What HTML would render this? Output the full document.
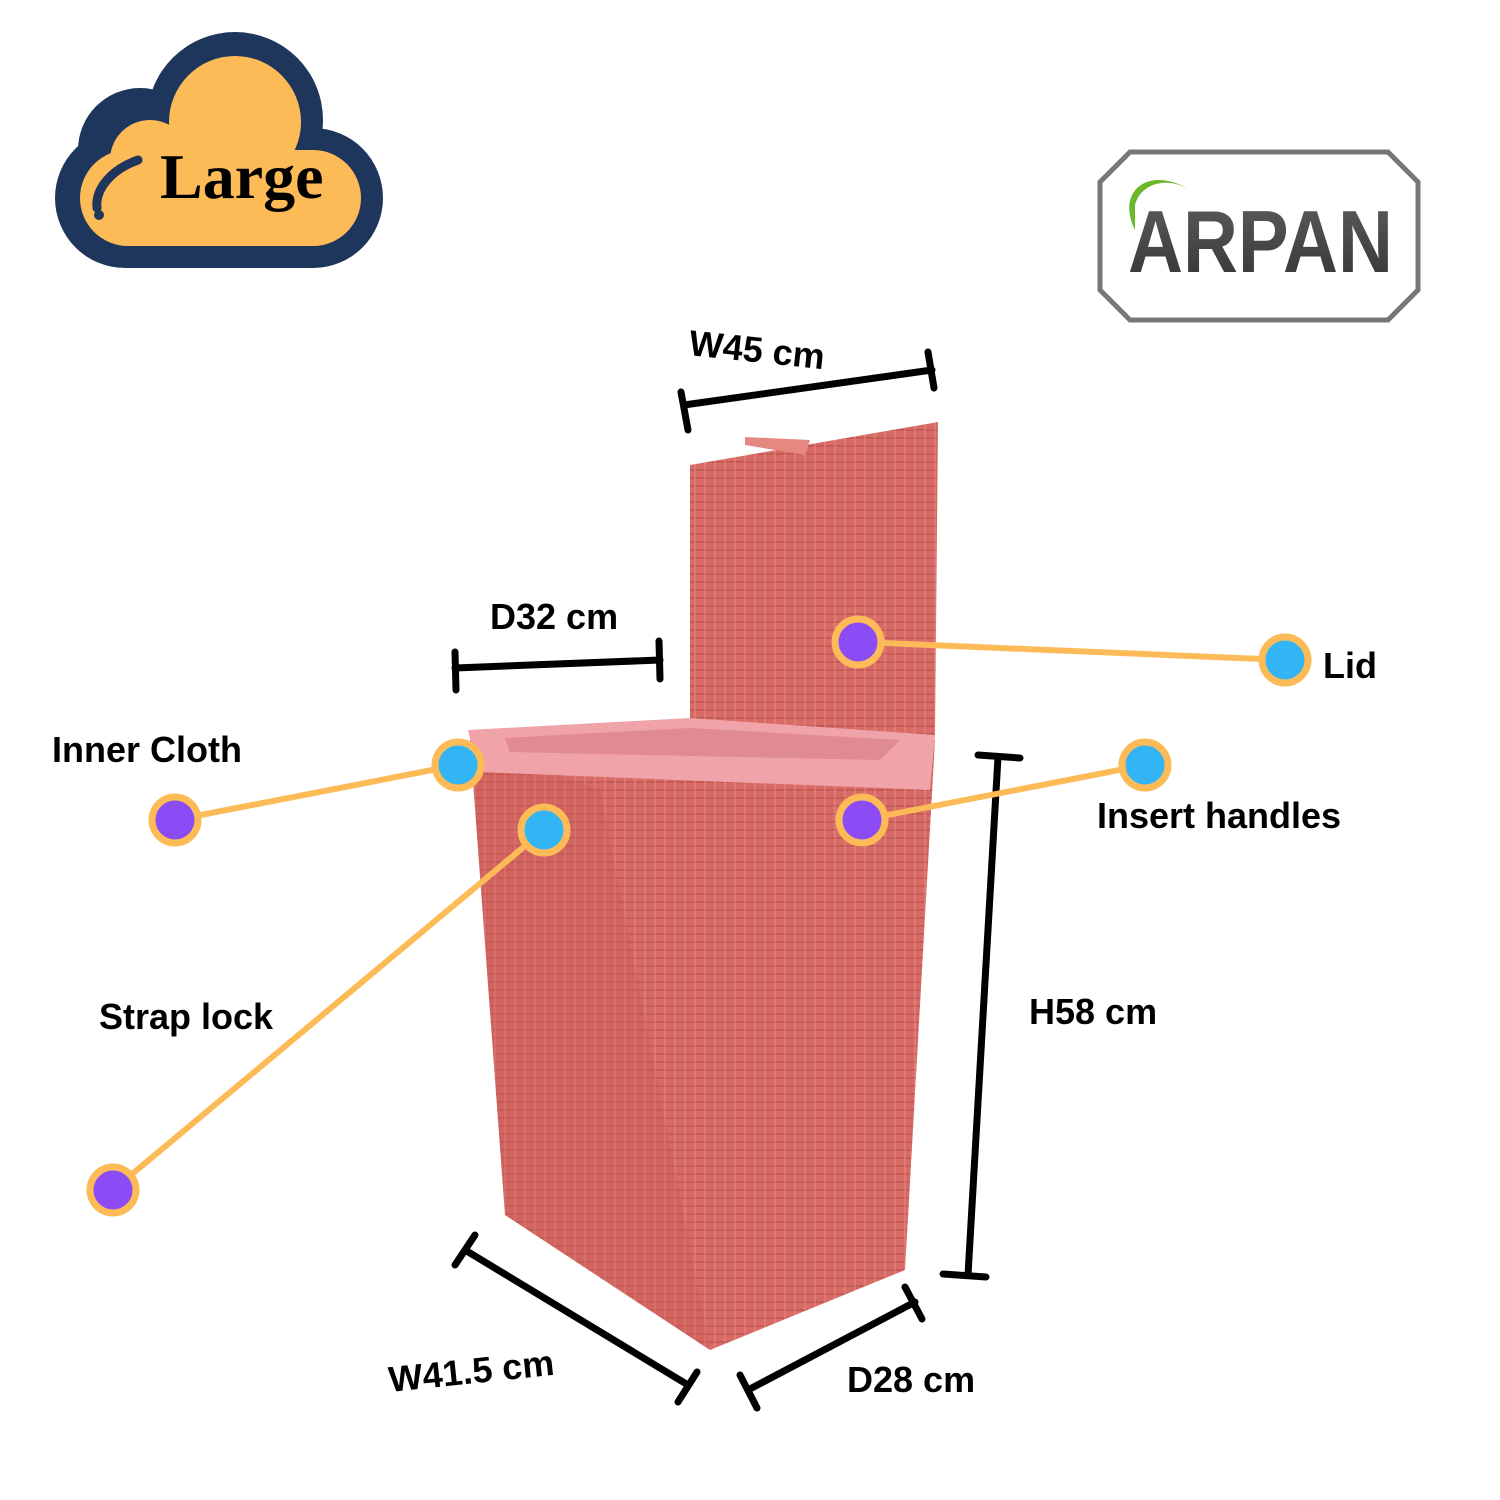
<!DOCTYPE html>
<html><head><meta charset="utf-8"><style>
body{margin:0;background:#fff;}
svg{display:block}
</style></head><body>
<svg width="1500" height="1500" viewBox="0 0 1500 1500" xmlns="http://www.w3.org/2000/svg">
<defs>
<pattern id="weave" width="10" height="8" patternUnits="userSpaceOnUse">
<rect width="10" height="8" fill="#d96b66"/>
<rect y="5" width="10" height="2" fill="#b8504d" opacity="0.6"/>
<rect x="4" width="2" height="8" fill="#e88a82" opacity="0.5"/>
</pattern>
<linearGradient id="ag" x1="0" y1="0" x2="0" y2="1"><stop offset="0" stop-color="#5e5e5e"/><stop offset="1" stop-color="#333"/></linearGradient>
</defs>
<!-- cloud -->
<g fill="#1f365c">
<circle cx="235" cy="120" r="88"/><circle cx="140" cy="150" r="62"/><circle cx="313" cy="198" r="70"/><circle cx="125" cy="198" r="70"/>
<rect x="125" y="150" width="190" height="118"/>
</g>
<g fill="#fdbb58">
<circle cx="235" cy="122" r="66"/><circle cx="150" cy="160" r="40"/><circle cx="313" cy="198" r="48"/><circle cx="128" cy="198" r="48"/>
<rect x="128" y="150" width="185" height="96"/>
</g>
<path d="M138,160 C110,170 95,190 97,208" stroke="#1f365c" stroke-width="9" fill="none" stroke-linecap="round"/>
<circle cx="99" cy="215" r="5" fill="#1f365c"/>
<text x="160" y="198" font-family="Liberation Serif,serif" font-weight="bold" font-size="64" fill="#000">Large</text>
<!-- ARPAN -->
<polygon points="1130,152 1388,152 1418,182 1418,290 1388,320 1130,320 1100,290 1100,182" fill="#fff" stroke="#777" stroke-width="5"/>
<path d="M1135,230 C1115,190 1150,165 1190,190 C1165,175 1140,185 1135,205" fill="#6cb82c"/>
<text x="1128" y="272" font-family="Liberation Sans,sans-serif" font-weight="bold" font-size="88" fill="url(#ag)" textLength="265" lengthAdjust="spacingAndGlyphs">ARPAN</text>
<!-- basket -->
<polygon points="690,465 938,422 935,735 690,735" fill="url(#weave)"/>
<polygon points="745,437 810,440 805,455 745,445" fill="#e48880"/>
<polygon points="470,740 935,740 905,1270 710,1350 505,1215" fill="url(#weave)"/>
<polygon points="470,740 600,790 710,1350 505,1215" fill="#c55a57" opacity="0.35"/>
<polygon points="468,730 690,718 935,735 930,790 478,772" fill="#f0a3a8"/>
<polygon points="505,738 690,728 900,740 880,760 510,752" fill="#e08a92"/>
<!-- dimension lines -->
<g stroke="#000" stroke-width="7" stroke-linecap="round" fill="none">
<line x1="684" y1="405" x2="932" y2="370"/><line x1="681" y1="392" x2="688" y2="430"/><line x1="928" y1="352" x2="934" y2="388"/>
<line x1="455" y1="668" x2="660" y2="660"/><line x1="455" y1="652" x2="456" y2="690"/><line x1="659" y1="641" x2="660" y2="679"/>
<line x1="998" y1="757" x2="968" y2="1275"/><line x1="978" y1="755" x2="1020" y2="758"/><line x1="943" y1="1274" x2="986" y2="1277"/>
<line x1="465" y1="1250" x2="688" y2="1385"/><line x1="455" y1="1265" x2="475" y2="1235"/><line x1="678" y1="1402" x2="697" y2="1372"/>
<line x1="748" y1="1390" x2="915" y2="1302"/><line x1="740" y1="1375" x2="757" y2="1408"/><line x1="905" y1="1287" x2="922" y2="1319"/>
</g>
<!-- callouts -->
<g stroke="#fdbb58" stroke-width="6">
<line x1="858" y1="642" x2="1285" y2="660"/>
<line x1="175" y1="820" x2="458" y2="765"/>
<line x1="862" y1="820" x2="1145" y2="765"/>
<line x1="113" y1="1190" x2="544" y2="830"/>
</g>
<g stroke="#fdbb58" stroke-width="7">
<circle cx="858" cy="642" r="23" fill="#8c4cf5"/>
<circle cx="1285" cy="660" r="23" fill="#33b5f5"/>
<circle cx="175" cy="820" r="23" fill="#8c4cf5"/>
<circle cx="458" cy="765" r="23" fill="#33b5f5"/>
<circle cx="862" cy="820" r="23" fill="#8c4cf5"/>
<circle cx="1145" cy="765" r="23" fill="#33b5f5"/>
<circle cx="544" cy="830" r="23" fill="#33b5f5"/>
<circle cx="113" cy="1190" r="23" fill="#8c4cf5"/>
</g>
<g font-family="Liberation Sans,sans-serif" font-weight="bold" font-size="36" fill="#000">
<text x="688" y="355" transform="rotate(6 688 355)">W45 cm</text>
<text x="490" y="629">D32 cm</text>
<text x="1323" y="678">Lid</text>
<text x="52" y="762">Inner Cloth</text>
<text x="1097" y="828">Insert handles</text>
<text x="99" y="1029">Strap lock</text>
<text x="1029" y="1024">H58 cm</text>
<text x="390" y="1392" transform="rotate(-6 390 1392)">W41.5 cm</text>
<text x="847" y="1392">D28 cm</text>
</g>
</svg>
</body></html>
